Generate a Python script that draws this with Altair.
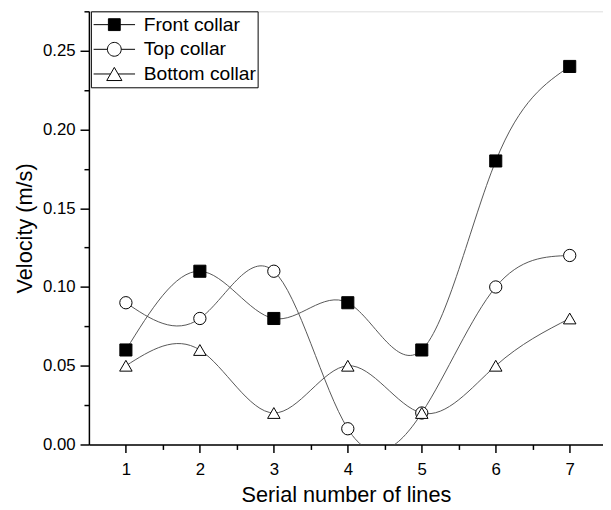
import altair as alt
import pandas as pd

# ---- data ----
x_vals = [1, 2, 3, 4, 5, 6, 7]
front_collar = [0.06, 0.11, 0.08, 0.09, 0.06, 0.18, 0.24]
top_collar = [0.09, 0.08, 0.11, 0.01, 0.02, 0.10, 0.12]
bottom_collar = [0.05, 0.06, 0.02, 0.05, 0.02, 0.05, 0.08]
series_names = ["Front collar", "Top collar", "Bottom collar"]
y_major = [0.0, 0.05, 0.10, 0.15, 0.20, 0.25]
y_minor = [0.025, 0.075, 0.125, 0.175, 0.225, 0.275]
x_major = [1, 2, 3, 4, 5, 6, 7]
x_minor = [1.5, 2.5, 3.5, 4.5, 5.5, 6.5]

rows = []
for name, vals in zip(series_names, [front_collar, top_collar, bottom_collar]):
    for xv, yv in zip(x_vals, vals):
        rows.append({"series": name, "x": xv, "v": yv})
df = pd.DataFrame(rows)

FONT = "Liberation Sans"

xscale = alt.Scale(domain=[0.5, 7.45], nice=False, zero=False)
yscale = alt.Scale(domain=[0, 0.275], nice=False, zero=False)

x_axis_major = alt.Axis(
    orient="bottom", values=x_major, format="d", title="Serial number of lines",
    grid=False, tickSize=8, tickWidth=1.5, tickColor="black",
    domainColor="black", domainWidth=1.5,
    labelFont=FONT, labelFontSize=17, labelColor="black", labelPadding=9,
    titleFont=FONT, titleFontSize=22, titleFontWeight="normal", titleColor="black",
    titlePadding=8,
)
x_axis_minor = alt.Axis(
    orient="bottom", values=x_minor, labels=False, title=None, grid=False,
    domain=False, tickSize=5, tickWidth=1.5, tickColor="black",
)
y_axis_major = alt.Axis(
    orient="left", values=y_major, format=".2f", title="Velocity (m/s)",
    grid=False, tickSize=9, tickWidth=1.5, tickColor="black",
    domainColor="black", domainWidth=1.5,
    labelFont=FONT, labelFontSize=17, labelColor="black", labelPadding=5,
    titleFont=FONT, titleFontSize=22, titleFontWeight="normal", titleColor="black",
    titlePadding=6,
)
y_axis_minor = alt.Axis(
    orient="left", values=y_minor, labels=False, title=None, grid=False,
    domain=False, tickSize=5, tickWidth=1.5, tickColor="black",
)

# legend glyphs: marker with a line through it
u = 3.0
sq_path = f"M-{u},0H-0.857M0.857,0H{u}M-0.857,-0.857H0.857V0.857H-0.857Z"
ci_path = f"M-{u},0H-1M1,0H{u}M-1,0A1,1,0,1,0,1,0A1,1,0,1,0,-1,0Z"
tr_path = f"M-{u},0H-0.55M0.55,0H{u}M0,-0.95L1.1,0.95L-1.1,0.95Z"

legend = alt.Legend(
    title=None, orient="none", legendX=2, legendY=0, direction="vertical",
    strokeColor="black", padding=1, clipHeight=25, rowPadding=0,
    symbolSize=196, symbolOffset=13, labelOffset=20,
    labelFont=FONT, labelFontSize=19.5, labelColor="black",
    symbolStrokeWidth=1, symbolOpacity=1,
)

base = alt.Chart(df)

lines = base.mark_line(
    interpolate="natural", clip=True, color="#555555", strokeWidth=1
).encode(
    x=alt.X("x:Q", scale=xscale, axis=x_axis_major),
    y=alt.Y("v:Q", scale=yscale, axis=y_axis_major),
    detail="series:N",
)

points = base.mark_point(
    filled=True, stroke="black", strokeWidth=1, opacity=1
).encode(
    x=alt.X("x:Q", scale=xscale, axis=x_axis_minor),
    y=alt.Y("v:Q", scale=yscale, axis=y_axis_minor),
    shape=alt.Shape("series:N", scale=alt.Scale(domain=series_names,
                    range=["square", "circle", "triangle-up"]), legend=None),
    fill=alt.Fill("series:N", scale=alt.Scale(domain=series_names,
                  range=["black", "white", "white"]), legend=None),
    size=alt.Size("series:N", scale=alt.Scale(domain=series_names,
                  range=[150, 160, 215]), legend=None),
)

legend_layer = base.transform_filter("false").mark_point(
    filled=True, strokeWidth=1, opacity=1, size=196
).encode(
    x=alt.X("x:Q", scale=xscale, axis=None),
    y=alt.Y("v:Q", scale=yscale, axis=None),
    shape=alt.Shape("series:N", scale=alt.Scale(domain=series_names,
                    range=[sq_path, ci_path, tr_path]), legend=legend),
    fill=alt.Fill("series:N", scale=alt.Scale(domain=series_names,
                  range=["black", "white", "white"]), legend=legend),
    stroke=alt.Stroke("series:N", scale=alt.Scale(domain=series_names,
                      range=["black", "black", "black"]), legend=legend),
)

chart = alt.layer(lines, points, legend_layer).resolve_axis(
    x="independent", y="independent"
).resolve_scale(
    shape="independent", fill="independent", size="independent",
    stroke="independent",
).properties(
    width=521, height=439,
    autosize=alt.AutoSizeParams(type="none"),
    padding={"left": 82, "top": 0, "right": 0, "bottom": 62},
).configure_view(stroke=None).configure(background="white")

chart.save("out.html", embed_options={"renderer": "svg", "actions": False})
